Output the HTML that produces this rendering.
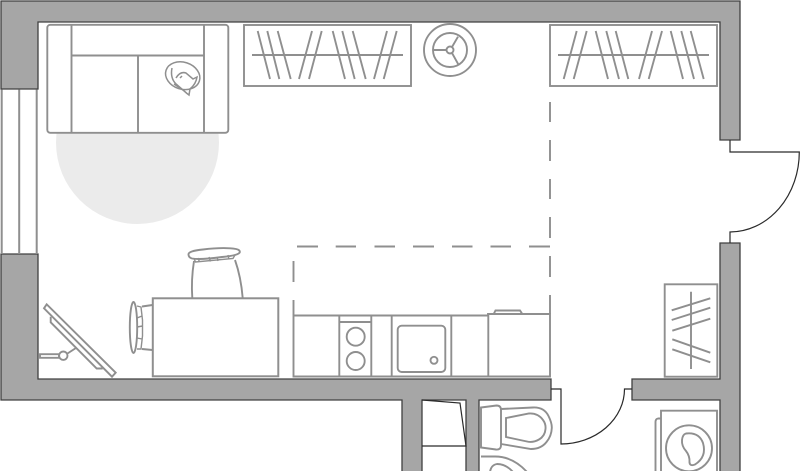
<!DOCTYPE html>
<html><head><meta charset="utf-8"><style>
html,body{margin:0;padding:0;background:#fff;width:800px;height:471px;overflow:hidden}
svg{display:block}
</style></head><body>
<svg width="800" height="471" viewBox="0 0 800 471" xmlns="http://www.w3.org/2000/svg">
<rect width="800" height="471" fill="#fff"/>
<circle cx="137.5" cy="142.5" r="81.5" fill="#ebebeb"/>
<g fill="#a6a6a6" stroke="#404040" stroke-width="1.3">
<path d="M1 1H740V140H720V22H38V89H1Z"/>
<path d="M1 254H38V379H551V400H479V476H466V400H422V476H402V400H1Z"/>
<path d="M740 243H720V379H632V400H720V476H740Z"/>
</g>
<g fill="none" stroke="#8f8f8f" stroke-width="1.9">
<!-- window -->
<path d="M1.7 89.5V254M19.2 89.5V254M36.7 89.5V254" stroke-width="2"/>
<!-- sofa -->
<rect x="47.3" y="24.8" width="181" height="108" rx="3" fill="#fff"/>
<path d="M71.5 25V133M204 25V133M72 55.5H204M138 56V133"/>
<!-- cat -->
<g stroke-width="1.5">
<ellipse cx="182.7" cy="75.7" rx="17.5" ry="13.5" transform="rotate(18 182.7 75.7)"/>
<path d="M172 68Q170 78 176 84L187 93.5L189 95L190 89Q196 84 197 77L193 79L186 73Q180 71 176 78"/>
<path d="M180 78L182 76M174 84L183 90"/>
</g>
<!-- wardrobe 1 -->
<rect x="244" y="25" width="167" height="61"/>
<path d="M252 55H403M257.7 31L270 79M267.3 31L279.3 79M277.7 31L290.7 79M312 31L299 79M321.7 31L309 79M332.7 31L345 79M342.3 31L354.7 79M352.7 31L365.7 79M387 31L374 79M396.7 31L383.7 79"/>
<!-- round -->
<circle cx="450" cy="50" r="26"/>
<circle cx="450" cy="50" r="17"/>
<circle cx="450" cy="50" r="3.5"/>
<path d="M433 50H446.5M452 47L458 36.7M452 53L458.3 64.3"/>
<!-- wardrobe 2 -->
<rect x="550" y="25" width="167" height="61"/>
<path d="M558 55H709M576.7 31L563.7 79M586.7 31L573.7 79M595.7 31L608 79M606.3 31L619 79M615.7 31L628.3 79M652 31L639 79M662 31L648.7 79M670.7 31L683 79M681.3 31L694 79M690.7 31L703.7 79"/>
<!-- dashes -->
<path d="M550 102V122M550 140V161M550 179V199M550 217V238M550 256V277M550 295V314"/>
<path d="M297 246.5H318M335.7 246.5H356M374.5 246.5H395M413 246.5H434M452 246.5H472.5M490.5 246.5H511M529 246.5H550"/>
<path d="M293.5 261V282M293.5 300V315"/>
<!-- kitchen -->
<path d="M293.5 315.5H488V314H550V376.5H293.5ZM339.3 315.5V376M371.3 315.5V376M391.7 315.5V376M451.3 315.5V376M488.3 314V376M339.3 322H371.3"/>
<path d="M493.7 314L495.5 310.5H520L522.3 314"/>
<circle cx="355.7" cy="336.7" r="9"/>
<circle cx="355.7" cy="361" r="9"/>
<rect x="397.7" y="325.7" width="47.6" height="46.3" rx="4"/>
<circle cx="434" cy="360.3" r="3.5"/>
<!-- table -->
<rect x="152.8" y="298.3" width="125.5" height="78" stroke-width="2"/>
<!-- top chair -->
<path d="M192.3 298Q191 280 194 261M242.7 298Q241 277 235 260"/>
<path d="M188.5 254.5Q188 251 203 249.5Q224 247 236 249Q240.5 250 239.7 252.5Q238 255.5 222 257Q200 260 192 258.5Q188.5 257.5 188.5 254.5Z"/>
<path d="M194 258.5L195.5 262L233 258.5L235 255M198 258L199.5 262M209 257L210.5 261.5M217 257L218 261M228 255L229 259.5" stroke-width="1.4"/>
<!-- left chair -->
<ellipse cx="133.5" cy="327.5" rx="3.7" ry="25.5"/>
<path d="M152.5 305L142 306.5M152.5 350L142 349"/>
<path d="M137 306L141 307L142.5 320V336L141 349L137 349M137 318L142 316M137 327L142.5 326M137 338L142 339" stroke-width="1.4"/>
<!-- tv -->
<path d="M46.7 304.3L44 308.3L112 376.7L115.7 372.7Z"/>
<path d="M50.7 316.7V322.3L96.7 368.5H102.7"/>
<path d="M76.7 347.5L66.7 354"/>
<circle cx="63.3" cy="355.7" r="4.2"/>
<path d="M40 354.2H59V357.8H40Z"/>
<!-- shoe -->
<rect x="664.7" y="284.3" width="52.6" height="92.4"/>
<path d="M691 291.7V369M671.7 310.3L710.3 298.3M671.7 320L710.3 307.7M672.3 330.7L710.3 318.7M672.3 339.3L710.3 352.7M672.3 349.3L710.3 362.3"/>
<!-- washer -->
<path d="M661 476V410.7H717V476"/>
<path d="M661 418.5H658Q655.5 419 655.5 422V476"/>
<circle cx="689" cy="448.3" r="23"/>
<path d="M686 433.5Q699 432 703 443Q707 457 695 464.5Q690 466.5 689.5 462.5Q690 456 686 451Q681.5 446 682 440Q682.5 434.5 686 433.5Z"/>
<!-- toilet 1 -->
<path d="M481 407.5L496.5 405.5Q501 405.5 501 410L501 445Q501 450 496 449.5L481 447.5Z"/>
<path d="M501 409L533 407.5Q544 407 548.5 416Q552 423 551.8 428Q551.5 436 546.5 442Q541 449 531 449L501 444"/>
<path d="M506 418L529 413.5Q538 413 543 420Q546 424 545.5 429Q545 436 539 439.5Q533 443 527 441.5L506 437Z"/>
<!-- toilet 2 -->
<path d="M481 456.5H495Q513 456.5 527 472"/>
<path d="M490 472Q491 465 497 464Q506 464 513 472"/>
</g>
<g fill="none" stroke="#2a2a2a" stroke-width="1.2">
<path d="M730 140V152H799.3A69.5 80 0 0 1 730 232V243"/>
<path d="M551 389H561V444A64 55 0 0 0 624.5 389H632"/>
<path d="M422 400L460 403L466 446H422"/>
</g>
</svg>
</body></html>
